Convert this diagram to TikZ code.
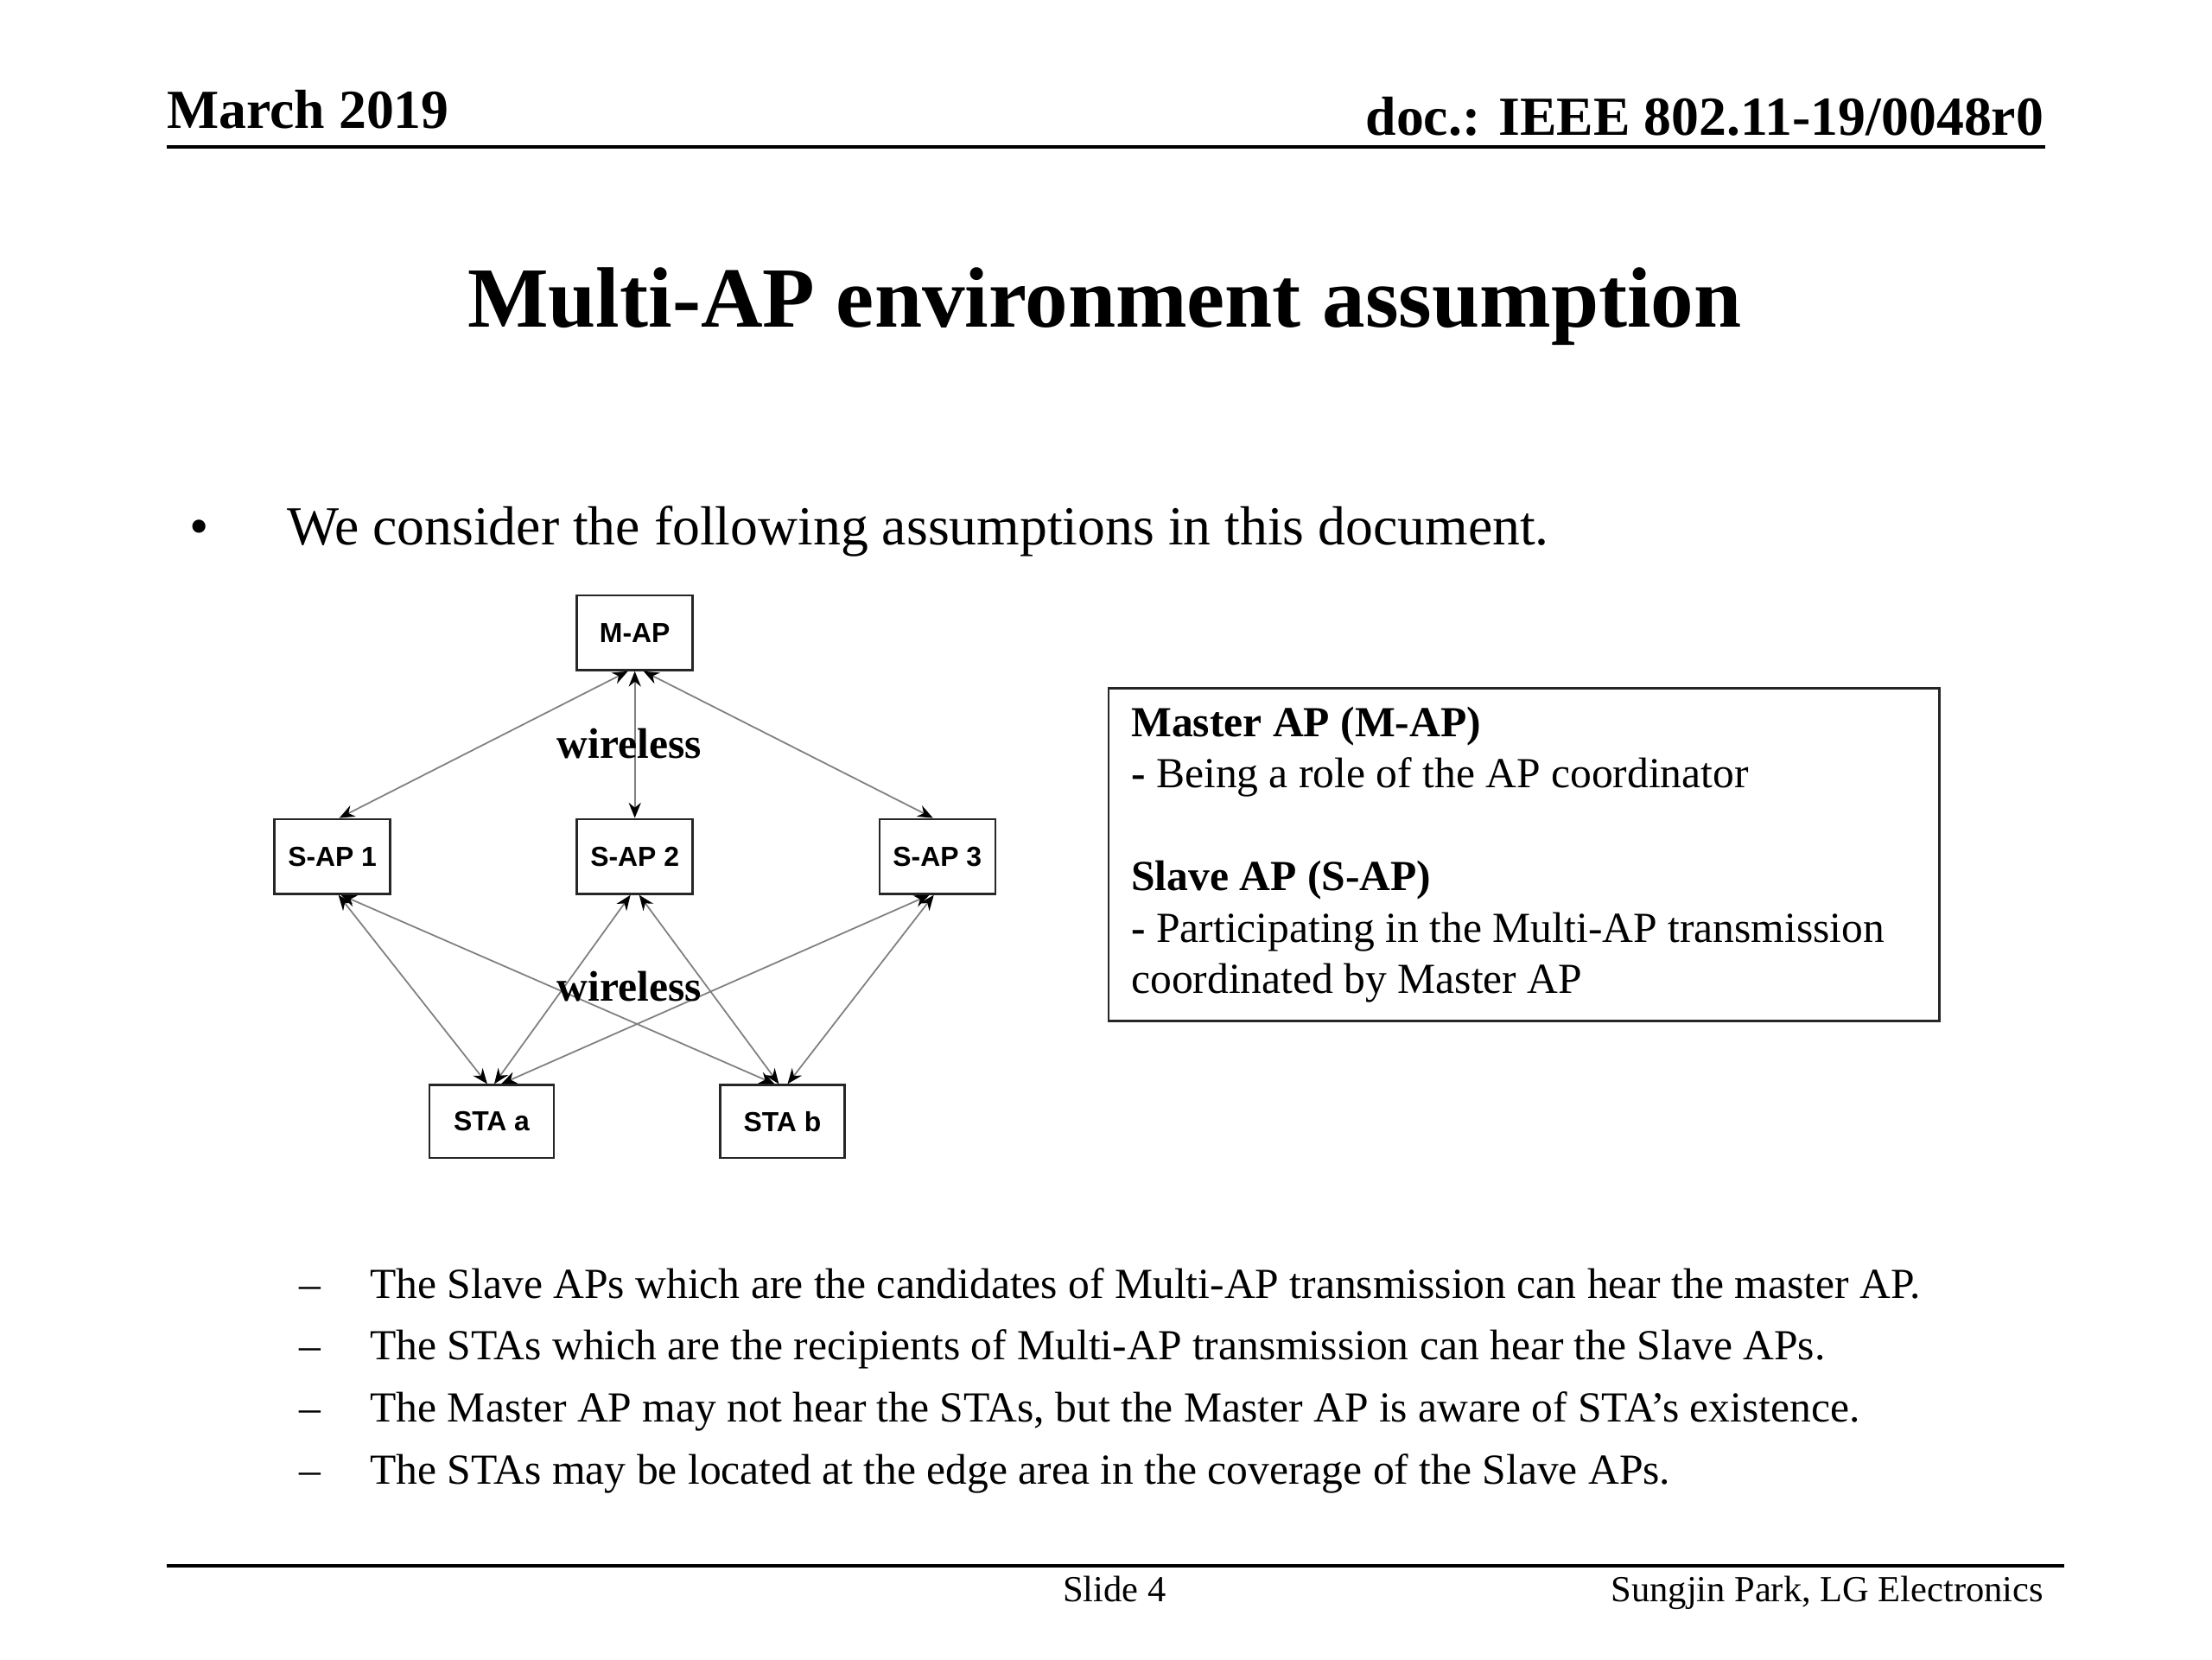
\documentclass[tikz,border=0pt]{standalone}
\usepackage{fontspec}
\setmainfont{Liberation Serif}
\newfontfamily\boxfont{Liberation Sans}
\usetikzlibrary{positioning, arrows.meta}

\begin{document}
\begin{tikzpicture}[
    x=0.0162cm, y=-0.0162cm,
    apbox/.style={rectangle, draw=black!85, line width=0.7pt, minimum width=1.33cm, minimum height=0.86cm, inner sep=0pt, font=\boxfont\bfseries\fontsize{9}{10}\selectfont},
    stabox/.style={apbox, minimum width=1.43cm, minimum height=0.84cm},
    link/.style={<->, draw=black!50, line width=0.5pt, >={Stealth[length=5pt, width=4pt, black]}},
    wlabel/.style={font=\bfseries\fontsize{14}{16}\selectfont},
    rulebar/.style={line width=1pt},
    slidetext/.style={anchor=base west, inner sep=0pt, font=\fontsize{14}{17}\selectfont}
]
    \useasboundingbox (0,0) rectangle (1568,1176);

    % header and title
    \node[anchor=base west, inner sep=0pt, font=\bfseries\fontsize{18}{22}\selectfont] (date) at (118,91) {March 2019};
    \node[anchor=base east, inner sep=0pt, font=\bfseries\fontsize{18}{22}\selectfont] (docid) at (1449,96) {doc.: IEEE 802.11-19/0048r0};
    \draw[rulebar] (118,104) -- (1450,104);
    \node[anchor=base, inner sep=0pt, font=\bfseries\fontsize{28}{34}\selectfont] (title) at (783,232) {Multi-AP environment assumption};

    \node[anchor=base west, inner sep=0pt, font=\fontsize{18}{22}\selectfont] (dot) at (134,386) {•};
    \node[anchor=base west, inner sep=0pt, font=\fontsize{18}{22}\selectfont] (intro) at (203,386) {We consider the following assumptions in this document.};

    % network
    \node[apbox] (map) at (450,448.5) {M-AP};
    \node[apbox, below=1.685cm of map] (sap2) {S-AP 2};
    \node[apbox, left=2.12cm of sap2] (sap1) {S-AP 1};
    \node[apbox, right=2.12cm of sap2] (sap3) {S-AP 3};
    \node[stabox, below left=2.17cm and 0.24cm of sap2] (staa) {STA a};
    \node[stabox, below right=2.17cm and 0.29cm of sap2] (stab) {STA b};

    \draw[link] ([xshift=-0.08cm]map.south) -- ([xshift=0.08cm]sap1.north);
    \draw[link] (map.south) -- (sap2.north);
    \draw[link] ([xshift=0.1cm]map.south) -- ([xshift=-0.05cm]sap3.north);

    \draw[link] ([xshift=0.07cm]sap1.south) -- ([xshift=-0.05cm]staa.north);
    \draw[link] ([xshift=0.1cm]sap1.south) -- ([xshift=-0.09cm]stab.north);
    \draw[link] ([xshift=-0.05cm]sap2.south) -- ([xshift=0.03cm]staa.north);
    \draw[link] ([xshift=0.05cm]sap2.south) -- ([xshift=-0.04cm]stab.north);
    \draw[link] ([xshift=-0.09cm]sap3.south) -- ([xshift=0.11cm]staa.north);
    \draw[link] ([xshift=-0.04cm]sap3.south) -- ([xshift=0.06cm]stab.north);

    \node[wlabel] (wl1) at (446,527) {wireless};
    \node[wlabel] (wl2) at (446,699) {wireless};

    % role box
    \node[draw=black!85, line width=0.8pt, anchor=north west, text width=9.02cm, minimum height=3.82cm,
          inner xsep=0.26cm, align=flush left, font=\fontsize{14}{16.8}\selectfont] (roles) at (785,487)
        {\textbf{Master AP (M-AP)}\\
         \textbf{-} Being a role of the AP coordinator\\[16.8pt]
         \textbf{Slave AP (S-AP)}\\
         \textbf{-} Participating in the Multi-AP transmission\\
         coordinated by Master AP};

    % assumptions
    \foreach \yy/\txt in {920/The Slave APs which are the candidates of Multi-AP transmission can hear the master AP.,
                          964/The STAs which are the recipients of Multi-AP transmission can hear the Slave APs.,
                          1008/{The Master AP may not hear the STAs, but the Master AP is aware of STA’s existence.},
                          1052/The STAs may be located at the edge area in the coverage of the Slave APs.} {
        \node[slidetext] at (212,\yy) {–};
        \node[slidetext] at (262,\yy) {\txt};
    }

    % footer
    \draw[rulebar] (118,1110) -- (1463,1110);
    \node[anchor=base, inner sep=0pt, font=\fontsize{12}{14}\selectfont] (slideno) at (790,1135) {Slide 4};
    \node[anchor=base east, inner sep=0pt, font=\fontsize{12}{14}\selectfont] (author) at (1449,1135) {Sungjin Park, LG Electronics};
\end{tikzpicture}
\end{document}
